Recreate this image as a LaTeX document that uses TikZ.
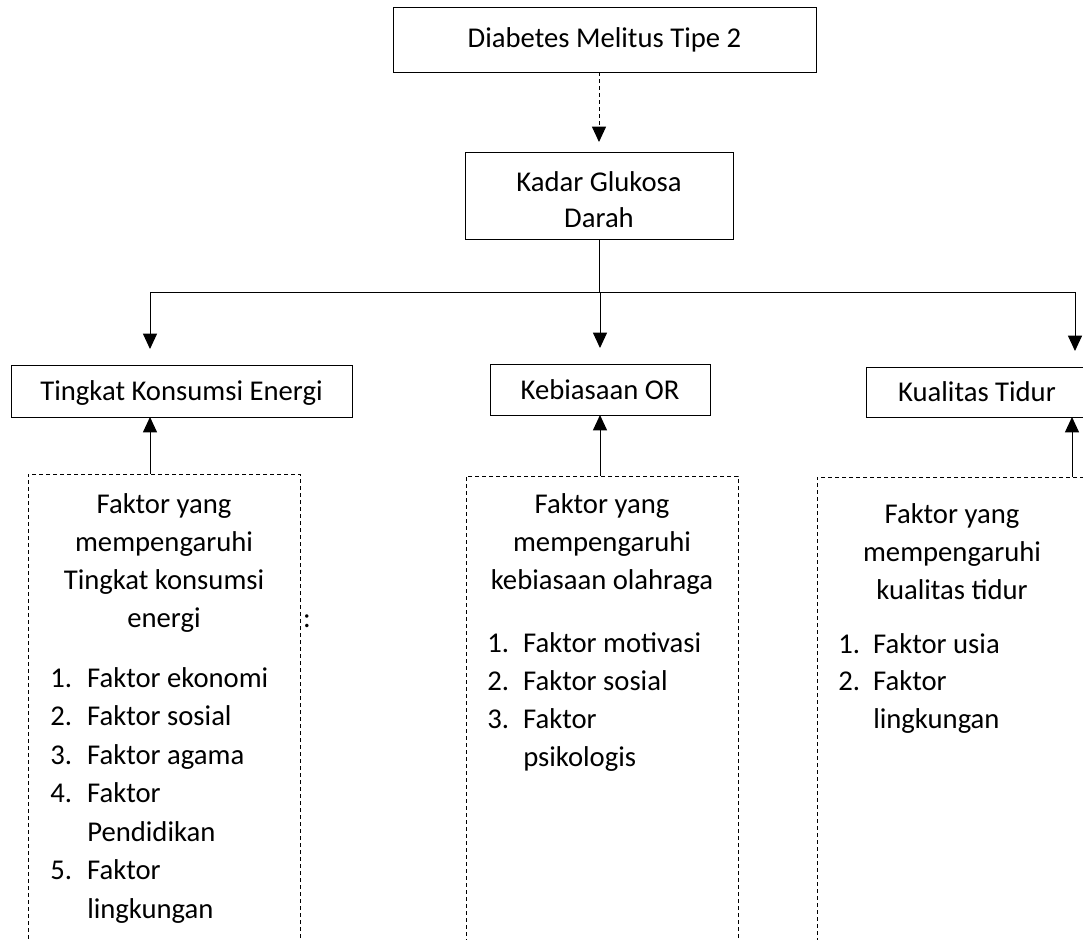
\documentclass[tikz,border=0pt]{standalone}
\usepackage{fontspec}
\setmainfont{Carlito}
\usetikzlibrary{positioning,arrows.meta}
\tikzstyle{kotak} = [draw, line width=0.75pt, inner sep=0pt, outer sep=0pt]
\tikzstyle{faktor} = [draw, line width=0.75pt, dash pattern=on 3pt off 2.25pt, inner sep=0pt, outer sep=0pt]
\tikzstyle{panah} = [line width=0.75pt, -{Triangle[width=10.5pt,length=11.5pt]}]
\tikzstyle{isi} = [anchor=base, inner sep=0pt]
\tikzstyle{butir} = [anchor=base west, inner sep=0pt]

\begin{document}
\begin{tikzpicture}[x=0.75pt, y=-0.75pt, font=\fontsize{21.5}{28.5}\selectfont]
			\useasboundingbox (0,0) rectangle (1083,940);
			\clip (0,0) rectangle (1083,940);
			\node[kotak, minimum width=317.25pt, minimum height=48.75pt] (dm) at (604.5,39.5) {Diabetes Melitus Tipe 2};
			\node[kotak, align=center, minimum width=201pt, minimum height=65.25pt] (kgd) at (599,195.5) {\rule{0pt}{21.5pt}Kadar Glukosa\\[-1.5pt]Darah};
			\node[kotak, text depth=0pt, minimum width=255.75pt, minimum height=39pt] (tke) at (181.5,391) {Tingkat Konsumsi Energi};
			\node[kotak, text depth=0pt, minimum width=165pt, minimum height=38.25pt] (kor) at (600,389.5) {Kebiasaan OR};
			\node[kotak, text depth=0pt, minimum width=166.5pt, minimum height=37.5pt] (kt) at (977,392) {Kualitas Tidur};
			\node[faktor, minimum width=204pt, minimum height=364.5pt] (ftke) at (164,717) {};
			\node[faktor, minimum width=204pt, minimum height=363pt] (fkor) at (602,718) {};
			\node[faktor, minimum width=202.5pt, minimum height=362.25pt] (fkt) at (952,718.5) {};
% 			isi kotak kiri
			\foreach \teks [count=\i] in {Faktor yang, mempengaruhi, Tingkat konsumsi, energi}
				\node[isi] (jl\i) at (164, 475+38*\i) {\teks};
			\node[isi] (titik) at (307,627) {:};
			\foreach \nom/\teks [count=\i] in {1./Faktor ekonomi, 2./Faktor sosial, 3./Faktor agama, 4./Faktor, /Pendidikan, 5./Faktor, /lingkungan}
				\node[butir] (bl\i) at (50, 648.5+38.5*\i) {\makebox[27.75pt][l]{\nom}\teks};
% 			isi kotak tengah
			\foreach \teks [count=\i] in {Faktor yang, mempengaruhi, kebiasaan olahraga}
				\node[isi] (jm\i) at (602, 475+38*\i) {\teks};
			\foreach \nom/\teks [count=\i] in {1./Faktor motivasi, 2./Faktor sosial, 3./Faktor, /psikologis}
				\node[butir] (bm\i) at (487, 614+38*\i) {\makebox[27pt][l]{\nom}\teks};
% 			isi kotak kanan
			\foreach \teks [count=\i] in {Faktor yang, mempengaruhi, kualitas tidur}
				\node[isi] (jr\i) at (952, 485+38*\i) {\teks};
			\foreach \nom/\teks [count=\i] in {1./Faktor usia, 2./Faktor, /lingkungan}
				\node[butir] (br\i) at (838, 615.5+37.5*\i) {\makebox[26.25pt][l]{\nom}\teks};
			\coordinate (ki) at (150,292);
			\coordinate (ka) at (1075,292);
			\coordinate (naik) at (1072,477);
			\draw[panah, dash pattern=on 3pt off 2.25pt, shorten >=7.5pt] (dm.south -| kgd.north) -- (kgd.north);
			\draw[line width=0.75pt] (kgd.south) -- (kgd.south |- ki);
			\draw[line width=0.75pt] (ki) -- (ka);
			\draw[panah, shorten >=12pt] (ki) -- (ki |- tke.north);
			\draw[panah, shorten >=12pt] (kor.north |- ki) -- (kor.north);
			\draw[panah, shorten >=12pt] (ka) -- (ka |- kt.north);
			\draw[panah] (ftke.north -| ki) -- (tke.south -| ki);
			\draw[panah] (fkor.north -| kor.south) -- (kor.south);
			\draw[panah] (fkt.north -| naik) -- (kt.south -| naik);
		\end{tikzpicture}
\end{document}
